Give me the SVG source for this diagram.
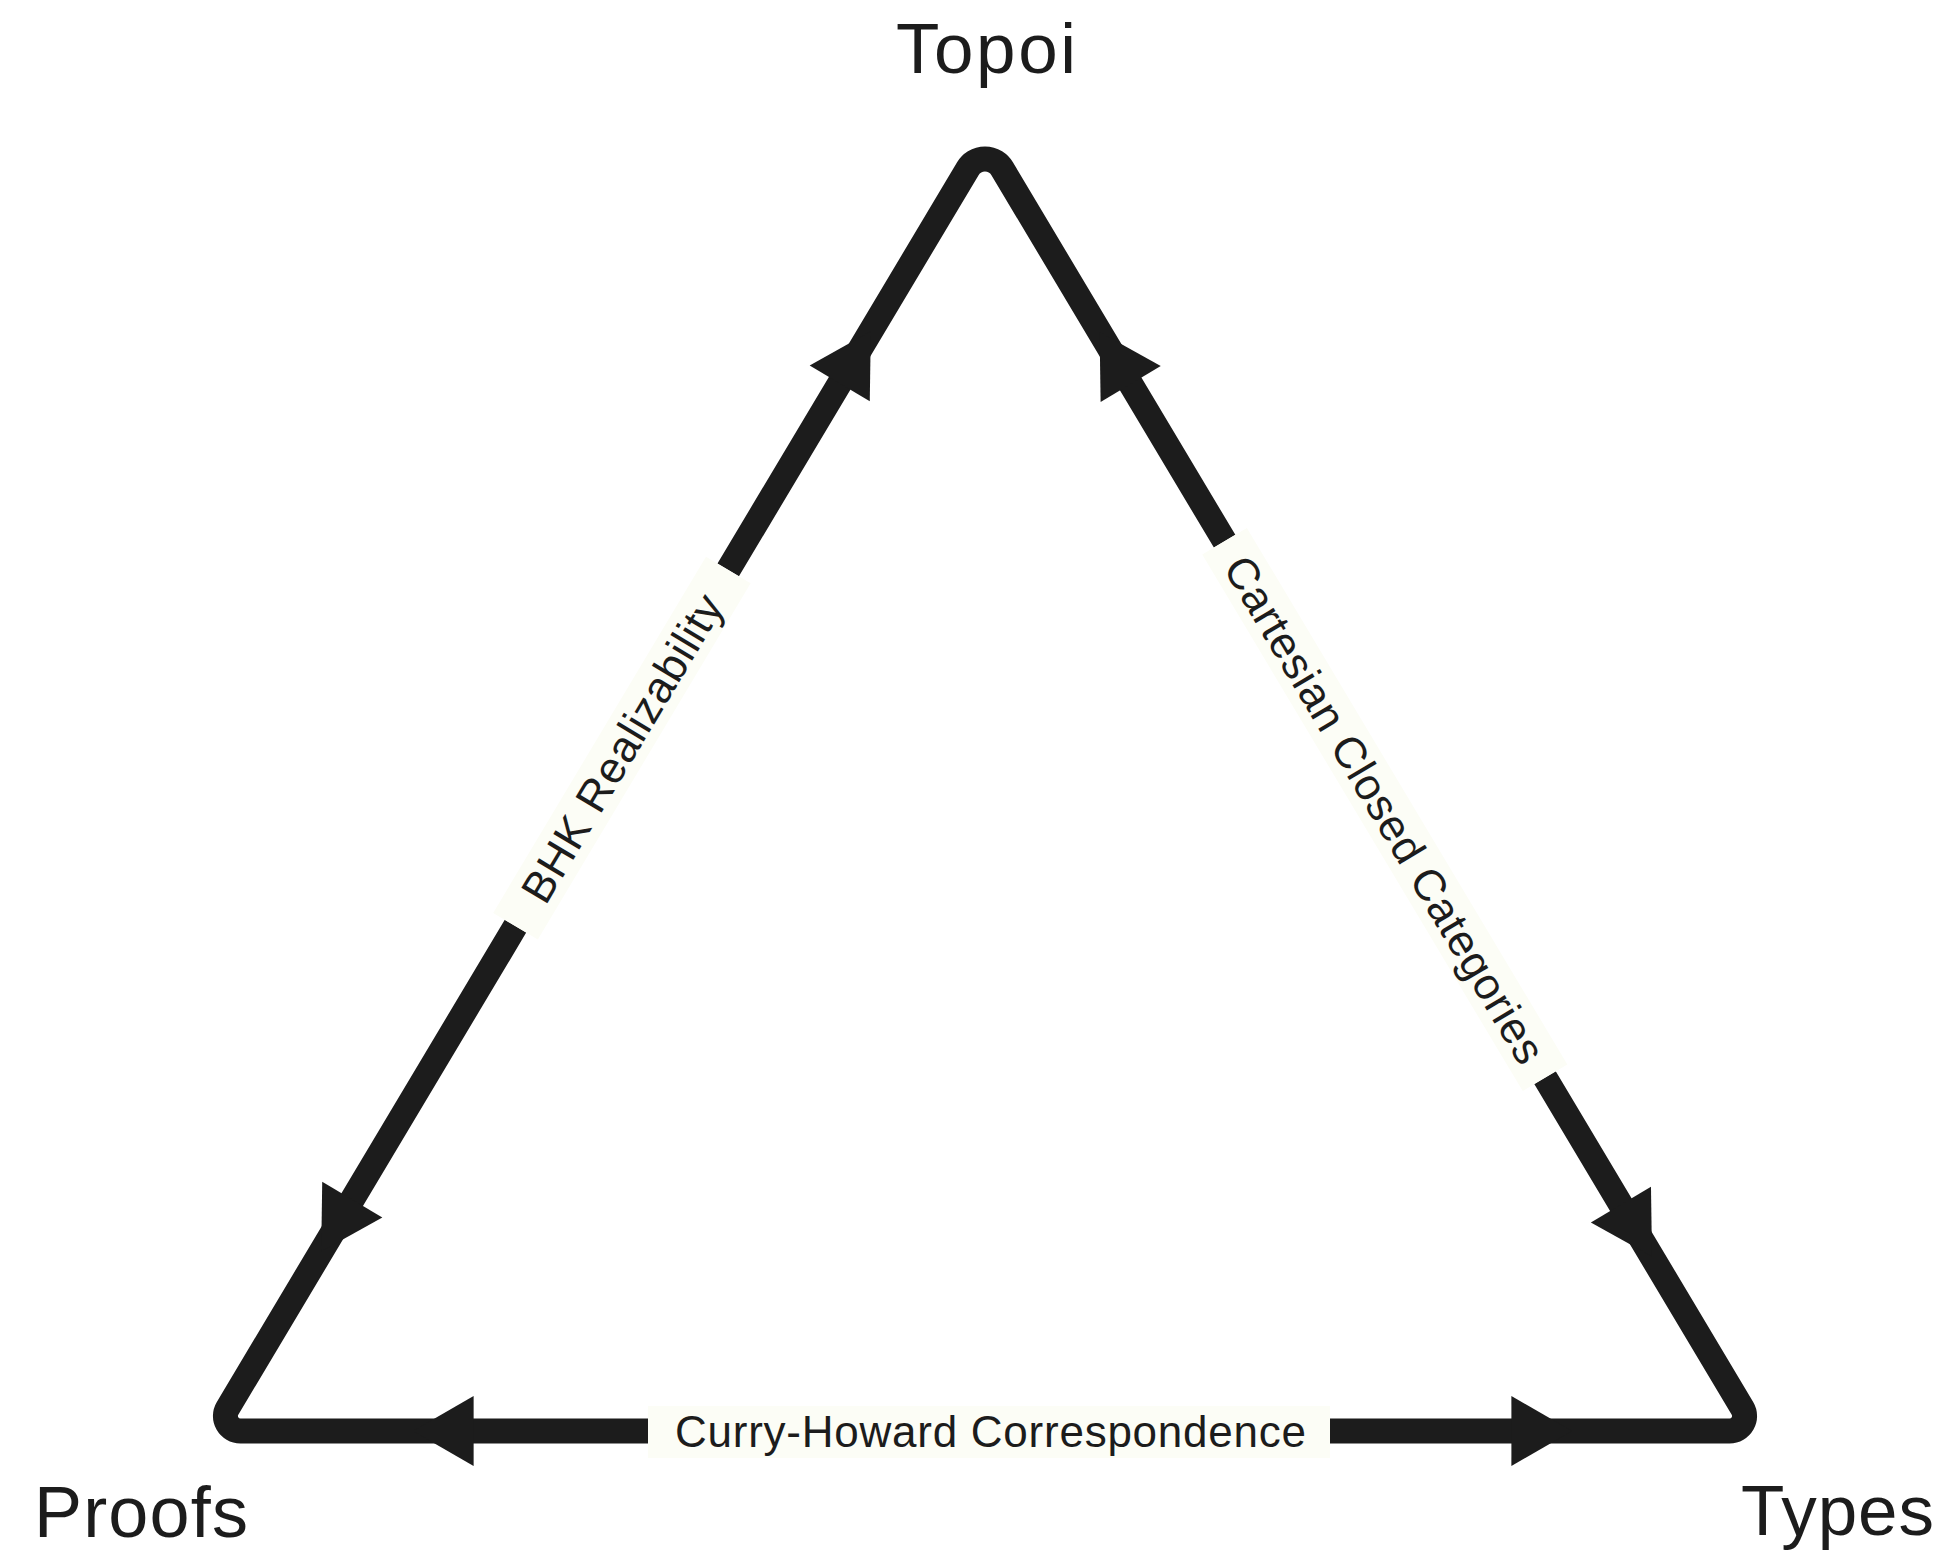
<svg xmlns="http://www.w3.org/2000/svg" xmlns:xlink="http://www.w3.org/1999/xlink" width="1952" height="1551" viewBox="0 0 1952 1551">
  <style>
    .node { font-family: "Liberation Sans", Arial, Helvetica, sans-serif; font-size: 71px; fill: #1c1c1c; }
    .edge { fill: none; stroke: #1c1c1c; stroke-width: 25; stroke-linecap: butt; stroke-linejoin: round; }
    .lbg { fill: #fcfdf6; }
    .ltxt { font-family: "Liberation Sans", Arial, Helvetica, sans-serif; font-size: 44px; fill: #1c1c1c; text-anchor: middle; }
    .head { fill: #1c1c1c; }
  </style>
  <defs>
    <polygon id="ah" points="0,0 -60.6,-35 -60.6,35"/>
  </defs>
  <rect x="0" y="0" width="1952" height="1551" fill="#ffffff"/>

  <g id="connectors">
    <path class="edge" d="M 728.2 569.9 L 967.82 168.76 A 20 20 0 0 1 1002.18 168.76 L 1224.6 541.2 M 1545 1077.7 L 1742.45 1408.31 A 15 15 0 0 1 1729.57 1431 L 1330 1431 M 648 1431 L 240.43 1431 A 15 15 0 0 1 227.55 1408.31 L 515.5 926.2"/>
    <g id="edge-bhk">
      <use xlink:href="#ah" href="#ah" class="head" transform="translate(870.8,331.3) rotate(-59.15)"/>
      <use xlink:href="#ah" href="#ah" class="head" transform="translate(321.2,1251.6) rotate(120.85)"/>
      <g transform="translate(621.9,748.1) rotate(-59.15)">
        <rect class="lbg" x="-207.5" y="-26" width="415" height="52"/>
        <text class="ltxt" x="0" y="15.5" textLength="350" lengthAdjust="spacing">BHK Realizability</text>
      </g>
    </g>
    <g id="edge-ccc">
      <use xlink:href="#ah" href="#ah" class="head" transform="translate(1099.6,332) rotate(-120.85)"/>
      <use xlink:href="#ah" href="#ah" class="head" transform="translate(1652,1256.6) rotate(59.15)"/>
      <g transform="translate(1384.8,809.5) rotate(59.15)">
        <rect class="lbg" x="-312.5" y="-26" width="625" height="52"/>
        <text class="ltxt" x="0" y="15.5" textLength="582" lengthAdjust="spacing">Cartesian Closed Categories</text>
      </g>
    </g>
    <g id="edge-curry-howard">
      <use xlink:href="#ah" href="#ah" class="head" transform="translate(413,1431) rotate(180)"/>
      <use xlink:href="#ah" href="#ah" class="head" transform="translate(1572,1431)"/>
      <rect class="lbg" x="648" y="1406" width="682" height="52"/>
      <text class="ltxt" x="990.5" y="1446.5" textLength="631" lengthAdjust="spacing">Curry-Howard Correspondence</text>
    </g>
  </g>

  <g id="node-topoi">
    <text class="node" x="896" y="73" textLength="180" lengthAdjust="spacing">Topoi</text>
  </g>
  <g id="node-proofs">
    <text class="node" x="34" y="1537" style="font-size:72px" textLength="214" lengthAdjust="spacing">Proofs</text>
  </g>
  <g id="node-types">
    <text class="node" x="1741" y="1535" textLength="193" lengthAdjust="spacing">Types</text>
  </g>
</svg>
